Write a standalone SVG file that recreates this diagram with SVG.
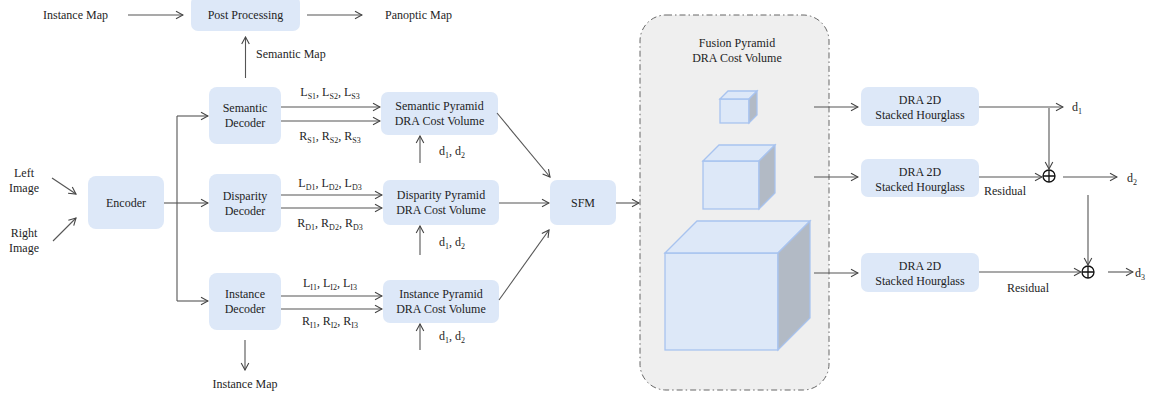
<svg xmlns="http://www.w3.org/2000/svg" width="1162" height="396" viewBox="0 0 1162 396" font-family="'Liberation Serif', 'DejaVu Serif', 'Times New Roman', serif">
  <style>
    text { font-family: 'Liberation Serif', 'DejaVu Serif', 'Times New Roman', serif; font-size: 12px; fill: #1e1e1e; }
    .c { text-anchor: middle; }
    .box { fill: #dde8f8; stroke: none; }
    .ln { fill: none; stroke: #555; stroke-width: 1.1; }
    .arr { fill: none; stroke: #555; stroke-width: 1.1; marker-end: url(#ah); }
    .sub { font-size: 8px; }
    .front { fill: #dde8f8; stroke: #a8c3ef; stroke-width: 1.3; }
    .side { fill: #b2bac5; stroke: #a8c3ef; stroke-width: 1.3; }
    .op { fill: none; stroke: #111; stroke-width: 1.3; }
  </style>
  <defs>
    <marker id="ah" viewBox="0 0 10 10" refX="9" refY="5" markerWidth="10" markerHeight="10" markerUnits="userSpaceOnUse" orient="auto">
      <path d="M2,1.2 L9,5 L2,8.8" fill="none" stroke="#444" stroke-width="1.1"/>
    </marker>
  </defs>
  <rect width="1162" height="396" fill="#ffffff"/>

  <!-- fusion pyramid container -->
  <g id="fusion">
    <rect x="640" y="15" width="189" height="375" rx="26" fill="#efefef" stroke="#666" stroke-width="1" stroke-dasharray="6 3 1.5 3"/>
    <text class="c" x="737" y="47">Fusion Pyramid</text>
    <text class="c" x="737" y="62">DRA Cost Volume</text>
    <!-- small cube -->
    <rect class="front" x="720" y="99" width="29" height="24"/>
    <polygon class="front" points="720,99 728,91 757,91 749,99"/>
    <polygon class="side" points="749,99 757,91 757,115 749,123"/>
    <!-- medium cube -->
    <rect class="front" x="703" y="161" width="56" height="48"/>
    <polygon class="front" points="703,161 719,145 775,145 759,161"/>
    <polygon class="side" points="759,161 775,145 775,193 759,209"/>
    <!-- large cube -->
    <rect class="front" x="665" y="253" width="113" height="97"/>
    <polygon class="front" points="665,253 697,221 810,221 778,253"/>
    <polygon class="side" points="778,253 810,221 810,318 778,350"/>
  </g>

  <!-- free labels -->
  <g id="labels">
    <text x="43" y="19">Instance Map</text>
    <text x="385" y="19">Panoptic Map</text>
    <text x="256" y="58">Semantic Map</text>
    <text class="c" x="245" y="388">Instance Map</text>
    <text class="c" x="24" y="177">Left</text>
    <text class="c" x="24" y="192">Image</text>
    <text class="c" x="24" y="237">Right</text>
    <text class="c" x="24" y="252">Image</text>
    <text class="c" x="330" y="96">L<tspan class="sub" dy="2.5">S1</tspan><tspan dy="-2.5">, L</tspan><tspan class="sub" dy="2.5">S2</tspan><tspan dy="-2.5">, L</tspan><tspan class="sub" dy="2.5">S3</tspan></text>
    <text class="c" x="330" y="140">R<tspan class="sub" dy="2.5">S1</tspan><tspan dy="-2.5">, R</tspan><tspan class="sub" dy="2.5">S2</tspan><tspan dy="-2.5">, R</tspan><tspan class="sub" dy="2.5">S3</tspan></text>
    <text class="c" x="330" y="187">L<tspan class="sub" dy="2.5">D1</tspan><tspan dy="-2.5">, L</tspan><tspan class="sub" dy="2.5">D2</tspan><tspan dy="-2.5">, L</tspan><tspan class="sub" dy="2.5">D3</tspan></text>
    <text class="c" x="330" y="227">R<tspan class="sub" dy="2.5">D1</tspan><tspan dy="-2.5">, R</tspan><tspan class="sub" dy="2.5">D2</tspan><tspan dy="-2.5">, R</tspan><tspan class="sub" dy="2.5">D3</tspan></text>
    <text class="c" x="330" y="287">L<tspan class="sub" dy="2.5">I1</tspan><tspan dy="-2.5">, L</tspan><tspan class="sub" dy="2.5">I2</tspan><tspan dy="-2.5">, L</tspan><tspan class="sub" dy="2.5">I3</tspan></text>
    <text class="c" x="330" y="325">R<tspan class="sub" dy="2.5">I1</tspan><tspan dy="-2.5">, R</tspan><tspan class="sub" dy="2.5">I2</tspan><tspan dy="-2.5">, R</tspan><tspan class="sub" dy="2.5">I3</tspan></text>
    <text x="439" y="155">d<tspan class="sub" dy="2.5">1</tspan><tspan dy="-2.5">, d</tspan><tspan class="sub" dy="2.5">2</tspan></text>
    <text x="439" y="246">d<tspan class="sub" dy="2.5">1</tspan><tspan dy="-2.5">, d</tspan><tspan class="sub" dy="2.5">2</tspan></text>
    <text x="439" y="340">d<tspan class="sub" dy="2.5">1</tspan><tspan dy="-2.5">, d</tspan><tspan class="sub" dy="2.5">2</tspan></text>
    <text x="1072" y="111">d<tspan class="sub" dy="2.5">1</tspan></text>
    <text x="1127" y="182">d<tspan class="sub" dy="2.5">2</tspan></text>
    <text x="1135" y="277">d<tspan class="sub" dy="2.5">3</tspan></text>
    <text x="984" y="195">Residual</text>
    <text x="1007" y="292">Residual</text>
  </g>

  <!-- processing nodes -->
  <g id="post-processing">
    <rect class="box" x="191" y="-4" width="109" height="35" rx="7"/>
    <text class="c" x="245.5" y="19">Post Processing</text>
  </g>
  <g id="encoder">
    <rect class="box" x="88" y="176" width="76" height="53" rx="8"/>
    <text class="c" x="126" y="207">Encoder</text>
  </g>
  <g id="semantic-decoder">
    <rect class="box" x="209" y="87" width="72" height="57" rx="8"/>
    <text class="c" x="245" y="112">Semantic</text>
    <text class="c" x="245" y="127">Decoder</text>
  </g>
  <g id="disparity-decoder">
    <rect class="box" x="209" y="174" width="72" height="58" rx="8"/>
    <text class="c" x="245" y="200">Disparity</text>
    <text class="c" x="245" y="215">Decoder</text>
  </g>
  <g id="instance-decoder">
    <rect class="box" x="209" y="273" width="72" height="57" rx="8"/>
    <text class="c" x="245" y="298">Instance</text>
    <text class="c" x="245" y="313">Decoder</text>
  </g>
  <g id="semantic-pyramid">
    <rect class="box" x="381" y="92" width="117" height="43" rx="7"/>
    <text class="c" x="439.5" y="110">Semantic Pyramid</text>
    <text class="c" x="439.5" y="125">DRA Cost Volume</text>
  </g>
  <g id="disparity-pyramid">
    <rect class="box" x="383" y="180" width="116" height="45" rx="7"/>
    <text class="c" x="441" y="199">Disparity Pyramid</text>
    <text class="c" x="441" y="214">DRA Cost Volume</text>
  </g>
  <g id="instance-pyramid">
    <rect class="box" x="383" y="280" width="116" height="43" rx="7"/>
    <text class="c" x="441" y="298">Instance Pyramid</text>
    <text class="c" x="441" y="313">DRA Cost Volume</text>
  </g>
  <g id="sfm">
    <rect class="box" x="550" y="180" width="66" height="45" rx="7"/>
    <text class="c" x="583" y="207">SFM</text>
  </g>
  <g id="hourglass-1">
    <rect class="box" x="861" y="87" width="118" height="39" rx="7"/>
    <text class="c" x="920" y="104">DRA 2D</text>
    <text class="c" x="920" y="119">Stacked Hourglass</text>
  </g>
  <g id="hourglass-2">
    <rect class="box" x="861" y="159" width="118" height="38" rx="7"/>
    <text class="c" x="920" y="176">DRA 2D</text>
    <text class="c" x="920" y="191">Stacked Hourglass</text>
  </g>
  <g id="hourglass-3">
    <rect class="box" x="861" y="253" width="118" height="39" rx="7"/>
    <text class="c" x="920" y="270">DRA 2D</text>
    <text class="c" x="920" y="285">Stacked Hourglass</text>
  </g>
  <g id="sum-1">
    <circle class="op" cx="1049" cy="176" r="6"/>
    <path class="op" d="M1043,176 H1055 M1049,170 V182"/>
  </g>
  <g id="sum-2">
    <circle class="op" cx="1088" cy="272" r="6"/>
    <path class="op" d="M1082,272 H1094 M1088,266 V278"/>
  </g>

  <!-- connectors -->
  <g id="connectors">
    <line class="arr" x1="128" y1="15" x2="183" y2="15"/>
    <line class="arr" x1="307" y1="15" x2="362" y2="15"/>
    <line class="arr" x1="245.5" y1="78" x2="245.5" y2="37"/>
    <line class="arr" x1="52" y1="178" x2="76" y2="194"/>
    <line class="arr" x1="53" y1="241" x2="76" y2="218"/>
    <line class="ln" x1="164" y1="203" x2="177" y2="203"/>
    <line class="ln" x1="177" y1="116" x2="177" y2="301"/>
    <line class="arr" x1="177" y1="116" x2="208" y2="116"/>
    <line class="arr" x1="177" y1="203" x2="208" y2="203"/>
    <line class="arr" x1="177" y1="301" x2="208" y2="301"/>
    <line class="arr" x1="281" y1="107" x2="380" y2="107"/>
    <line class="arr" x1="281" y1="121" x2="380" y2="121"/>
    <line class="arr" x1="281" y1="195" x2="382" y2="195"/>
    <line class="arr" x1="281" y1="208" x2="382" y2="208"/>
    <line class="arr" x1="281" y1="296" x2="382" y2="296"/>
    <line class="arr" x1="281" y1="309" x2="382" y2="309"/>
    <line class="arr" x1="420" y1="163" x2="420" y2="136"/>
    <line class="arr" x1="420" y1="255" x2="420" y2="226"/>
    <line class="arr" x1="420" y1="350" x2="420" y2="324"/>
    <line class="arr" x1="245" y1="340" x2="245" y2="370"/>
    <line class="arr" x1="497" y1="113" x2="550" y2="177"/>
    <line class="arr" x1="499" y1="203" x2="549" y2="203"/>
    <line class="arr" x1="499" y1="300" x2="549" y2="230"/>
    <line class="arr" x1="616" y1="203" x2="639" y2="203"/>
    <line class="arr" x1="814" y1="107" x2="858" y2="107"/>
    <line class="arr" x1="814" y1="177" x2="858" y2="177"/>
    <line class="arr" x1="814" y1="273" x2="858" y2="273"/>
    <line class="arr" x1="979" y1="107" x2="1063" y2="107"/>
    <line class="arr" x1="1049" y1="108" x2="1049" y2="169"/>
    <line class="arr" x1="979" y1="177" x2="1042" y2="177"/>
    <line class="arr" x1="1063" y1="177" x2="1117" y2="177"/>
    <line class="arr" x1="1088" y1="195" x2="1088" y2="265"/>
    <line class="arr" x1="979" y1="272" x2="1081" y2="272"/>
    <line class="arr" x1="1108" y1="272" x2="1133" y2="272"/>
  </g>
</svg>
